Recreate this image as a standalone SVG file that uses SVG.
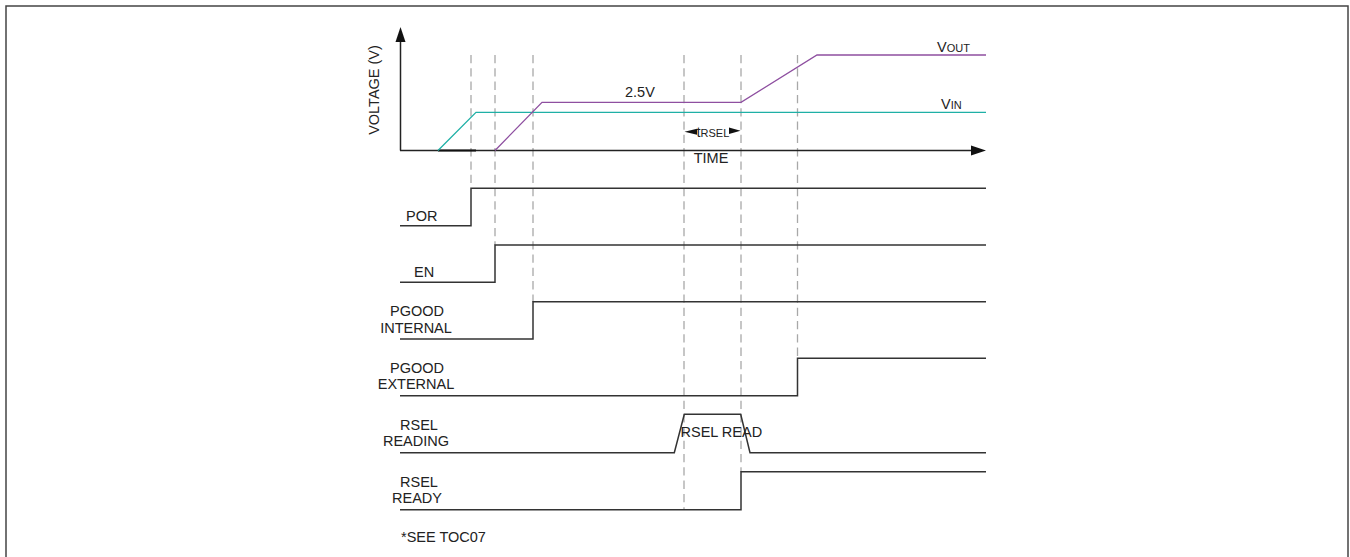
<svg xmlns="http://www.w3.org/2000/svg" width="1350" height="557" viewBox="0 0 1350 557">
<style>
text{font-family:"Liberation Sans",Arial,sans-serif;font-size:14.5px;fill:#222}
.sub{font-size:11px}
.sig{fill:none;stroke:#333;stroke-width:1.5}
.dash{fill:none;stroke:#a8a8a8;stroke-width:1.3;stroke-dasharray:8.3 5}
.ax{fill:none;stroke:#222;stroke-width:1.5}
.tri{fill:#111}
.mid{text-anchor:middle}
</style>
<rect x="6" y="6" width="1342" height="560" fill="none" stroke="#444" stroke-width="1.5"/>
<g id="guides">
<line class="dash" x1="471" y1="55" x2="471" y2="188"/>
<line class="dash" x1="495" y1="55" x2="495" y2="245"/>
<line class="dash" x1="533" y1="55" x2="533" y2="302"/>
<line class="dash" x1="684" y1="55" x2="684" y2="510"/>
<line class="dash" x1="741" y1="55" x2="741" y2="472"/>
<line class="dash" x1="797.5" y1="55" x2="797.5" y2="358"/>
</g>
<g id="axes">
<line class="ax" x1="400.5" y1="40" x2="400.5" y2="150.5"/>
<polygon class="tri" points="400.5,27 395.5,42 405.5,42"/>
<line class="ax" x1="400" y1="150.5" x2="975" y2="150.5"/>
<polygon class="tri" points="986,150.5 971,145.5 971,155.5"/>
<line x1="438" y1="150.5" x2="476" y2="150.5" stroke="#111" stroke-width="2.2"/>
<text transform="translate(379,90) rotate(-90)" class="mid">VOLTAGE (V)</text>
<text x="711" y="163" class="mid">TIME</text>
</g>
<g id="vin">
<polyline points="438,150.5 476,112.3 986,112.3" fill="none" stroke="#1fb0a6" stroke-width="1.3"/>
<text x="941" y="109">V<tspan class="sub">IN</tspan></text>
</g>
<g id="vout">
<polyline points="495,150.5 542,102.3 741,102.3 817,55 986,55" fill="none" stroke="#8e4fa0" stroke-width="1.3"/>
<text x="625" y="97">2.5V</text>
<text x="937" y="51.7">V<tspan class="sub">OUT</tspan></text>
</g>
<g id="trsel">
<polygon class="tri" points="684.5,131.7 697,128.7 697,134.7"/>
<polygon class="tri" points="740.5,130.7 729,127.5 729,134"/>
<text x="696.5" y="137">t<tspan class="sub" dy="0.3">RSEL</tspan></text>
</g>
<g id="por">
<polyline class="sig" points="400,225.7 471,225.7 471,188.3 986,188.3"/>
<text x="406" y="220.7">POR</text>
</g>
<g id="en">
<polyline class="sig" points="400,282.3 495,282.3 495,245 986,245"/>
<text x="414" y="277">EN</text>
</g>
<g id="pgood-internal">
<polyline class="sig" points="400,339 533,339 533,301.7 986,301.7"/>
<text x="417" y="315.7" class="mid">PGOOD</text>
<text x="416" y="333" class="mid">INTERNAL</text>
</g>
<g id="pgood-external">
<polyline class="sig" points="400,395.7 797.5,395.7 797.5,358.3 986,358.3"/>
<text x="417" y="373" class="mid">PGOOD</text>
<text x="416" y="389" class="mid">EXTERNAL</text>
</g>
<g id="rsel-reading">
<polyline class="sig" points="400,452.7 674.3,452.7 684.3,414.3 740.7,414.3 750,452.7 986,452.7"/>
<text x="419" y="430" class="mid">RSEL</text>
<text x="416" y="446" class="mid">READING</text>
<text x="680.5" y="437.3">RSEL READ</text>
</g>
<g id="rsel-ready">
<polyline class="sig" points="400,509.7 741,509.7 741,471.7 986,471.7"/>
<text x="419" y="486.7" class="mid">RSEL</text>
<text x="417" y="503" class="mid">READY</text>
</g>
<g id="note">
<text x="401" y="541.7">*SEE TOC07</text>
</g>
</svg>
